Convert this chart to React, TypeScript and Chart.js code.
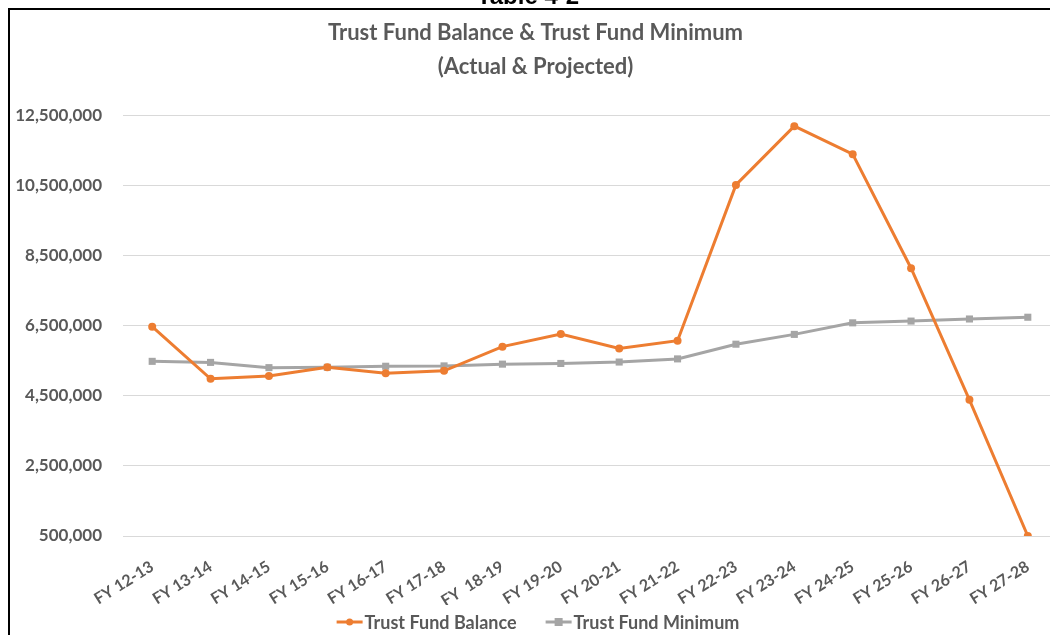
import React, { useEffect, useRef } from 'react';
import { Chart, registerables } from 'chart.js';
Chart.register(...registerables);

const categories = [
  'FY 12-13', 'FY 13-14', 'FY 14-15', 'FY 15-16', 'FY 16-17', 'FY 17-18', 'FY  18-19', 'FY 19-20',
  'FY 20-21', 'FY 21-22', 'FY 22-23', 'FY 23-24', 'FY 24-25', 'FY 25-26', 'FY 26-27', 'FY 27-28',
];
const balance = [
  6480000, 4990000, 5070000, 5320000, 5150000, 5220000, 5910000, 6270000,
  5860000, 6080000, 10530000, 12210000, 11410000, 8150000, 4390000, 500000,
];
const minimum = [
  5490000, 5460000, 5310000, 5320000, 5350000, 5360000, 5410000, 5430000,
  5470000, 5560000, 5980000, 6260000, 6590000, 6640000, 6700000, 6750000,
];
const titleLines = ['Trust Fund Balance & Trust Fund Minimum', '(Actual & Projected)'];
const seriesNames = ['Trust Fund Balance', 'Trust Fund Minimum'];

const ORANGE = '#ED7D31';
const GRAY = '#A5A5A5';
const TEXT = '#595959';
const FONT = 'Lato, "Open Sans", sans-serif';

// Legend drawn as line + marker + text, like the spreadsheet legend
const legendPlugin = {
  id: 'lineMarkerLegend',
  afterDraw(chart: any) {
    const ctx = chart.ctx as CanvasRenderingContext2D;
    ctx.save();
    ctx.font = `bold 18px ${FONT}`;
    ctx.textBaseline = 'middle';
    ctx.textAlign = 'left';
    const items = chart.data.datasets.map((ds: any) => ({
      text: ds.label as string,
      color: ds.borderColor as string,
      shape: ds.pointStyle as string,
    }));
    const ICON = 26;
    const GAP = 2;
    const SEP = 29;
    const widths = items.map((it: any) => ctx.measureText(it.text).width);
    const total =
      items.reduce((a: number, _: any, i: number) => a + ICON + GAP + widths[i], 0) + SEP * (items.length - 1);
    let x = chart.width / 2 - 2 - total / 2;
    const y = chart.height - 19;
    items.forEach((it: any, i: number) => {
      ctx.strokeStyle = it.color;
      ctx.fillStyle = it.color;
      ctx.lineWidth = 3;
      ctx.beginPath();
      ctx.moveTo(x, y);
      ctx.lineTo(x + ICON, y);
      ctx.stroke();
      if (it.shape === 'circle') {
        ctx.beginPath();
        ctx.arc(x + ICON / 2, y, 3.5, 0, Math.PI * 2);
        ctx.fill();
      } else {
        ctx.fillRect(x + ICON / 2 - 4, y - 4, 8, 8);
      }
      ctx.fillStyle = TEXT;
      ctx.fillText(it.text, x + ICON + GAP, y + 1);
      x += ICON + GAP + widths[i] + SEP;
    });
    ctx.restore();
  },
};

export default function App() {
  const ref = useRef<HTMLCanvasElement>(null);
  useEffect(() => {
    document.documentElement.style.overflow = 'hidden';
    const chart = new Chart(ref.current!, {
      type: 'line',
      data: {
        labels: categories,
        datasets: [
          {
            label: seriesNames[0],
            data: balance,
            borderColor: ORANGE,
            backgroundColor: ORANGE,
            borderWidth: 3,
            pointStyle: 'circle',
            pointRadius: 4,
            pointBorderWidth: 0,
            tension: 0,
          },
          {
            label: seriesNames[1],
            data: minimum,
            borderColor: GRAY,
            backgroundColor: GRAY,
            borderWidth: 3,
            pointStyle: 'rect',
            pointRadius: 5,
            pointBorderWidth: 0,
            tension: 0,
          },
        ],
      },
      plugins: [legendPlugin],
      options: {
        responsive: false,
        animation: false,
        layout: { padding: { left: 4, right: 13, top: 0, bottom: 36 } },
        plugins: {
          title: {
            display: true,
            text: titleLines,
            color: TEXT,
            font: { family: FONT, size: 22, weight: 'bold', lineHeight: 1.545 },
            padding: { top: 6, bottom: 32 },
          },
          legend: { display: false },
          tooltip: { enabled: false },
        },
        scales: {
          x: {
            offset: true,
            grid: { display: false, drawTicks: false },
            border: { display: false },
            afterFit: (s: any) => {
              s.height = 69;
            },
            ticks: {
              color: TEXT,
              font: { family: FONT, size: 16, weight: 'bold' },
              minRotation: 32,
              maxRotation: 32,
              padding: 21,
              autoSkip: false,
            },
          },
          y: {
            min: 500000,
            max: 12500000,
            grid: { color: '#D9D9D9', lineWidth: 1, drawTicks: false },
            border: { display: false },
            afterFit: (s: any) => {
              s.width = 109;
            },
            ticks: {
              stepSize: 2000000,
              color: TEXT,
              font: { family: FONT, size: 17, weight: 'bold' },
              padding: 21,
              callback: (v: any) => Number(v).toLocaleString('en-US'),
            },
          },
        },
      },
    });
    return () => chart.destroy();
  }, []);
  return (
    <>
      <div
        style={{
          position: 'fixed',
          top: -16,
          left: 0,
          width: 1056,
          textAlign: 'center',
          font: 'bold 24px Arial, "Liberation Sans", sans-serif',
          color: '#000',
          lineHeight: '24px',
        }}
      >
        Table 4-2
      </div>
      <div
        style={{
          position: 'fixed',
          top: 8,
          left: 8,
          width: 1100,
          height: 700,
          border: '2px solid #000',
          background: '#fff',
        }}
      >
        <canvas ref={ref} width={1060} height={631} style={{ display: 'block' }} />
      </div>
    </>
  );
}
